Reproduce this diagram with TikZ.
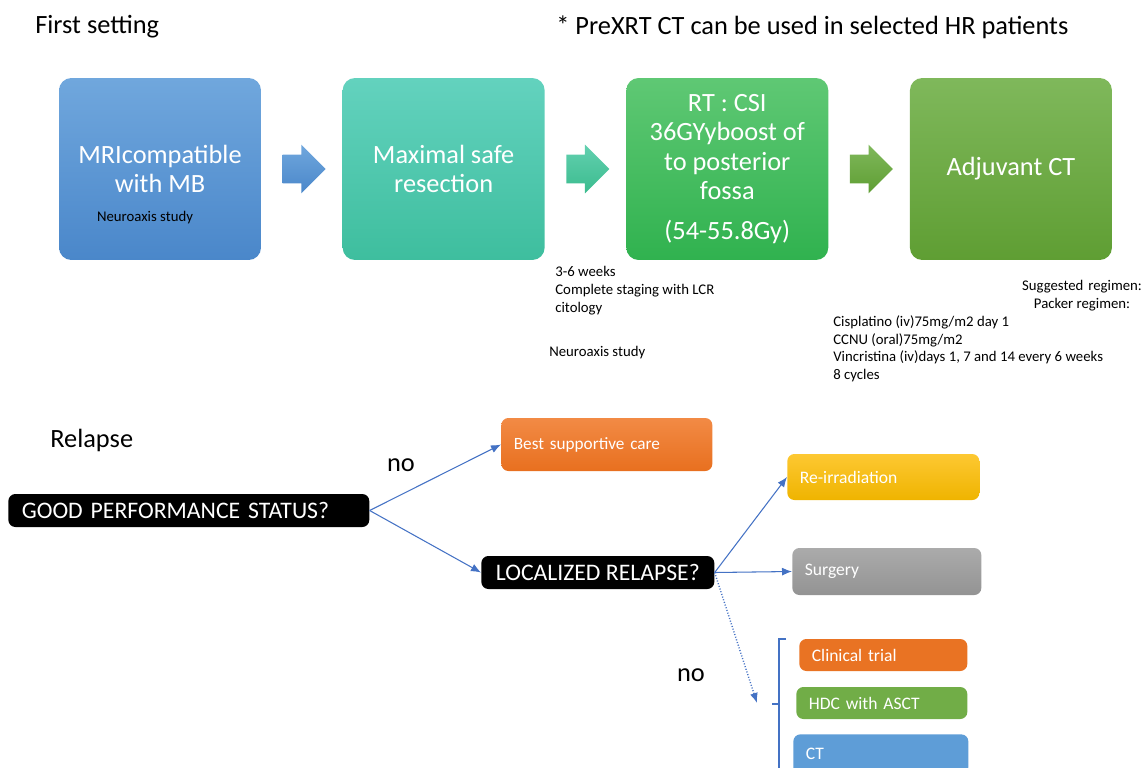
\documentclass[tikz,border=0pt]{standalone}
\usepackage{fontspec}
\setmainfont{Carlito}
\usetikzlibrary{arrows.meta, positioning, shapes.arrows}

\definecolor{mritop}{HTML}{70A7DD}
\definecolor{mribot}{HTML}{4A87CA}
\definecolor{restop}{HTML}{63D2BE}
\definecolor{resbot}{HTML}{3EBE9E}
\definecolor{rttop}{HTML}{5FC874}
\definecolor{rtbot}{HTML}{30B24F}
\definecolor{adjtop}{HTML}{7FB85B}
\definecolor{adjbot}{HTML}{5F9E33}
\definecolor{orangetop}{HTML}{F28A45}
\definecolor{orangebot}{HTML}{E8701F}
\definecolor{yellowtop}{HTML}{FDC832}
\definecolor{yellowbot}{HTML}{EFB400}
\definecolor{graytop}{HTML}{ABABAB}
\definecolor{graybot}{HTML}{939393}
\definecolor{hdcgreen}{HTML}{71AD47}
\definecolor{ctblue}{HTML}{5E9DD7}
\definecolor{linkblue}{HTML}{4472C4}

\begin{document}
\begin{tikzpicture}[
  x=0.02cm, y=-0.02cm,
  node distance=1.62cm,
  stage/.style={rounded corners=7pt, minimum width=4.04cm, minimum height=3.64cm, text=white, align=center, font=\fontsize{15}{16.6}\selectfont, inner sep=2pt},
  darrow/.style={single arrow, minimum height=0.86cm, minimum width=0.96cm, single arrow head extend=0.2cm, inner xsep=0pt, inner ysep=0.28cm},
  question/.style={fill=black, rounded corners=4pt, text=white, font=\fontsize{13.5}{16}\selectfont, inner xsep=0.27cm, inner ysep=0pt, minimum height=0.66cm},
  option/.style={rounded corners=4pt, text=white, font=\fontsize{10}{12}\selectfont, inner xsep=0.25cm, inner ysep=0pt, text width=#1, align=left},
  note/.style={font=\fontsize{8.4}{10.2}\selectfont, align=left, inner sep=0pt},
  title/.style={font=\fontsize{15}{17}\selectfont, inner sep=0pt},
  link/.style={-{Latex[length=2mm, width=1.6mm]}, draw=linkblue, line width=0.6pt}
]
\useasboundingbox (0,0) rectangle (1148,767);
\clip (0,0) rectangle (1148,767);

% first setting
\node (first) [title, anchor=west] at (35,27) {First setting};
\node (prexrt) [title, anchor=west] at (556,27) {* PreXRT CT can be used in selected HR patients};

\node (mri) [stage, top color=mritop, bottom color=mribot] at (160,169) {MRIcompatible\\with MB};
\node (resect) [stage, top color=restop, bottom color=resbot, right=of mri] {Maximal safe\\resection};
\node (rt) [stage, top color=rttop, bottom color=rtbot, right=of resect] {RT : CSI\\36GYyboost of\\to posterior\\fossa\\[6pt](54-55.8Gy)};
\node (adj) [stage, top color=adjtop, bottom color=adjbot, right=of rt] {Adjuvant CT};

\node (a1) [darrow, top color=mritop, bottom color=mribot, right=0.42cm of mri] {};
\node (a2) [darrow, top color=restop!80!rttop, bottom color=resbot!80!rtbot, right=0.42cm of resect] {};
\node (a3) [darrow, top color=adjtop, bottom color=adjbot, right=0.42cm of rt] {};

\node (mristudy) [note] at (145,218) {Neuroaxis study};
\node (weeks) [note, anchor=north west] at (555,266) {3-6 weeks\\Complete staging with LCR\\citology};
\node (axis) [note, anchor=west] at (549,353) {Neuroaxis study};
\node (suggested) [note, align=center, anchor=north] at (1082,280) {Suggested\,\,regimen:\\Packer regimen:};
\node (packer) [note, anchor=north west] at (833,315) {Cisplatino (iv)75mg/m2 day 1\\CCNU (oral)75mg/m2\\Vincristina (iv)days 1, 7 and 14 every 6 weeks\\8 cycles};

% relapse
\node (relapse) [title, anchor=west] at (50,440) {Relapse};
\node (gps) [question, text width=6.68cm, align=left, anchor=west] at (8,510.5) {GOOD PERFORMANCE STATUS?};
\node (lr) [question, minimum width=4.66cm, anchor=west] at (481,572.5) {LOCALIZED RELAPSE?};
\node (bsc) [option=3.72cm, font=\fontsize{9.8}{11}\selectfont, minimum height=1.06cm, top color=orangetop, bottom color=orangebot, anchor=west] at (501,444.5) {Best supportive care};
\node (reirr) [option=3.34cm, minimum height=0.92cm, top color=yellowtop, bottom color=yellowbot, anchor=west] at (787,477) {Re-irradiation};
\node (surg) [option=3.28cm, minimum height=0.94cm, top color=graytop, bottom color=graybot, anchor=west] at (792,571.5) {Surgery};
\node (trial) [option=2.86cm, minimum height=0.64cm, fill=orangebot!90!orangetop, anchor=west] at (799,655) {Clinical\,\,trial};
\node (hdc) [option=2.92cm, minimum height=0.64cm, fill=hdcgreen, anchor=west] at (796,703) {HDC with\,\,ASCT};
\node (ct) [option=3.0cm, minimum height=0.8cm, fill=ctblue, anchor=north west] at (793,734) {\\[-6pt]CT\\[8pt]};

\node (no1) [title] at (401,465) {no};
\node (no2) [title] at (691,675) {no};

\coordinate (brk) at (757,703);
\draw[link] (gps.east) -- (bsc.west);
\draw[link] (gps.east) -- (lr.west);
\draw[link] (lr.east) -- (reirr.west);
\draw[link] (lr.east) -- (surg.west);
\draw[link, densely dotted, line width=0.8pt] (lr.east) -- (brk);
\draw[linkblue, line width=0.7pt] (786,639) -- (779,639) -- (779,780);
\draw[linkblue, line width=0.7pt] (772,704) -- (779,704);

\end{tikzpicture}
\end{document}
